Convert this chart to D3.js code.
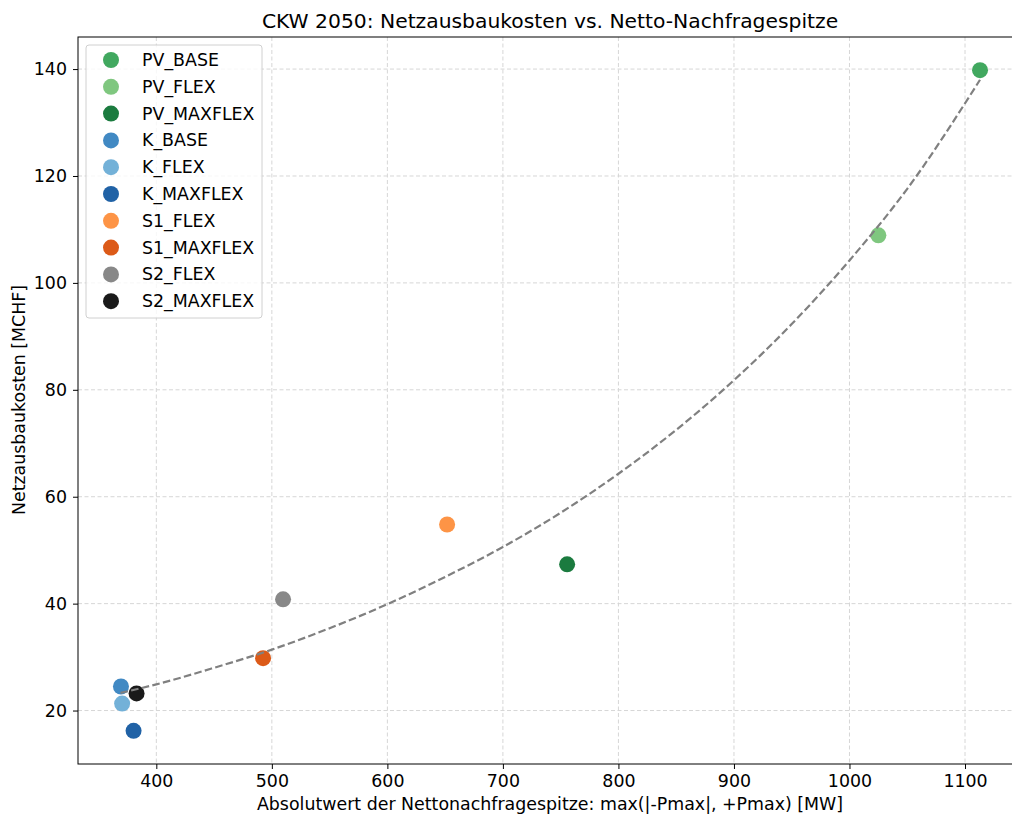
<!DOCTYPE html>
<html>
<head>
<meta charset="utf-8">
<script src="https://cdn.jsdelivr.net/npm/d3@7"></script>
<style>
  body { margin: 0; background: #fff; }
  svg { font-family: "DejaVu Sans", sans-serif; }
</style>
</head>
<body>
<svg id="chart" width="1012" height="816"></svg>
<script>
// scenario points
const names = ["PV_BASE", "PV_FLEX", "PV_MAXFLEX", "K_BASE", "K_FLEX", "K_MAXFLEX", "S1_FLEX", "S1_MAXFLEX", "S2_FLEX", "S2_MAXFLEX"];
const peakMW = [1113, 1025, 755.6, 369.4, 370.4, 380.3, 651.7, 492.4, 509.7, 382.9];
const costMCHF = [139.8, 108.9, 47.35, 24.5, 21.3, 16.2, 54.8, 29.8, 40.8, 23.2];
const colors = ["#41a85f", "#7fc77f", "#1b7b3f", "#4189c3", "#73b1d8", "#2062a6", "#fd9446", "#dc5a18", "#888888", "#1a1a1a"];

// trend curve
const trendX = [369, 400, 450, 500, 550, 600, 650, 700, 750, 800, 850, 900, 950, 1000, 1050, 1113];
const trendY = [23.3, 24.9, 28.0, 31.4, 35.4, 39.9, 45.0, 50.6, 57.0, 64.3, 72.5, 81.8, 92.3, 104.2, 117.6, 138.0];

const xTicks = [400, 500, 600, 700, 800, 900, 1000, 1100];
const yTicks = [20, 40, 60, 80, 100, 120, 140];

const margin = {left: 78, top: 37, right: 1023, bottom: 764};
const fs = 17.4;
const svg = d3.select("#chart");

const x = d3.scaleLinear().domain([332.2, 1150.2]).range([margin.left, margin.right]);
const y = d3.scaleLinear().domain([10, 146]).range([margin.bottom, margin.top]);

// grid
const grid = svg.append("g").attr("stroke", "#d6d6d6").attr("stroke-width", 1).attr("stroke-dasharray", "4,2.5");
grid.selectAll(".gx").data(xTicks).join("line")
  .attr("x1", d => x(d)).attr("x2", d => x(d))
  .attr("y1", margin.top).attr("y2", margin.bottom);
grid.selectAll(".gy").data(yTicks).join("line")
  .attr("x1", margin.left).attr("x2", margin.right)
  .attr("y1", d => y(d)).attr("y2", d => y(d));

// axes
const xAxis = svg.append("g")
  .attr("transform", `translate(0,${margin.bottom})`)
  .call(d3.axisBottom(x).tickValues(xTicks).tickSize(5).tickPadding(6).tickFormat(d3.format("d")));
const yAxis = svg.append("g")
  .attr("transform", `translate(${margin.left},0)`)
  .call(d3.axisLeft(y).tickValues(yTicks).tickSize(5).tickPadding(6).tickFormat(d3.format("d")));
[xAxis, yAxis].forEach(a => {
  a.selectAll("text").attr("font-size", fs).attr("fill", "#000").attr("font-family", "DejaVu Sans");
  a.selectAll(".tick line").attr("stroke", "#000").attr("stroke-width", 1);
  a.select(".domain").remove();
});

// frame
svg.append("rect")
  .attr("x", margin.left).attr("y", margin.top)
  .attr("width", margin.right - margin.left).attr("height", margin.bottom - margin.top)
  .attr("fill", "none").attr("stroke", "#000").attr("stroke-width", 1);

// points
const pts = names.map((n, i) => ({name: n, x: peakMW[i], y: costMCHF[i], c: colors[i]}));
svg.append("g").selectAll("circle").data(pts).join("circle")
  .attr("cx", d => x(d.x)).attr("cy", d => y(d.y)).attr("r", 8)
  .attr("fill", d => d.c);

// trend line
const trend = trendX.map((v, i) => [v, trendY[i]]);
svg.append("path")
  .datum(trend)
  .attr("d", d3.line().x(d => x(d[0])).y(d => y(d[1])).curve(d3.curveMonotoneX))
  .attr("fill", "none").attr("stroke", "#808080").attr("stroke-width", 2.2)
  .attr("stroke-dasharray", "7.6,3.3");

// title and labels
svg.append("text").attr("x", 550).attr("y", 28).attr("text-anchor", "middle")
  .attr("font-size", 20.3).text("CKW 2050: Netzausbaukosten vs. Netto-Nachfragespitze");
svg.append("text").attr("x", 550).attr("y", 810).attr("text-anchor", "middle")
  .attr("font-size", fs).text("Absolutwert der Nettonachfragespitze: max(|-Pmax|, +Pmax) [MW]");
svg.append("text").attr("transform", "translate(25,400) rotate(-90)").attr("text-anchor", "middle")
  .attr("font-size", fs).text("Netzausbaukosten [MCHF]");

// legend
const lg = svg.append("g").attr("transform", "translate(86,45)");
lg.append("rect").attr("width", 176).attr("height", 273).attr("rx", 3)
  .attr("fill", "#fff").attr("fill-opacity", 0.8).attr("stroke", "#d0d0d0");
const item = lg.selectAll(".item").data(pts).join("g")
  .attr("transform", (d, i) => `translate(0,${15 + i * 26.8})`);
item.append("circle").attr("cx", 25).attr("cy", 0).attr("r", 8).attr("fill", d => d.c);
item.append("text").attr("x", 56).attr("y", 6).attr("font-size", fs).text(d => d.name);
</script>
</body>
</html>
